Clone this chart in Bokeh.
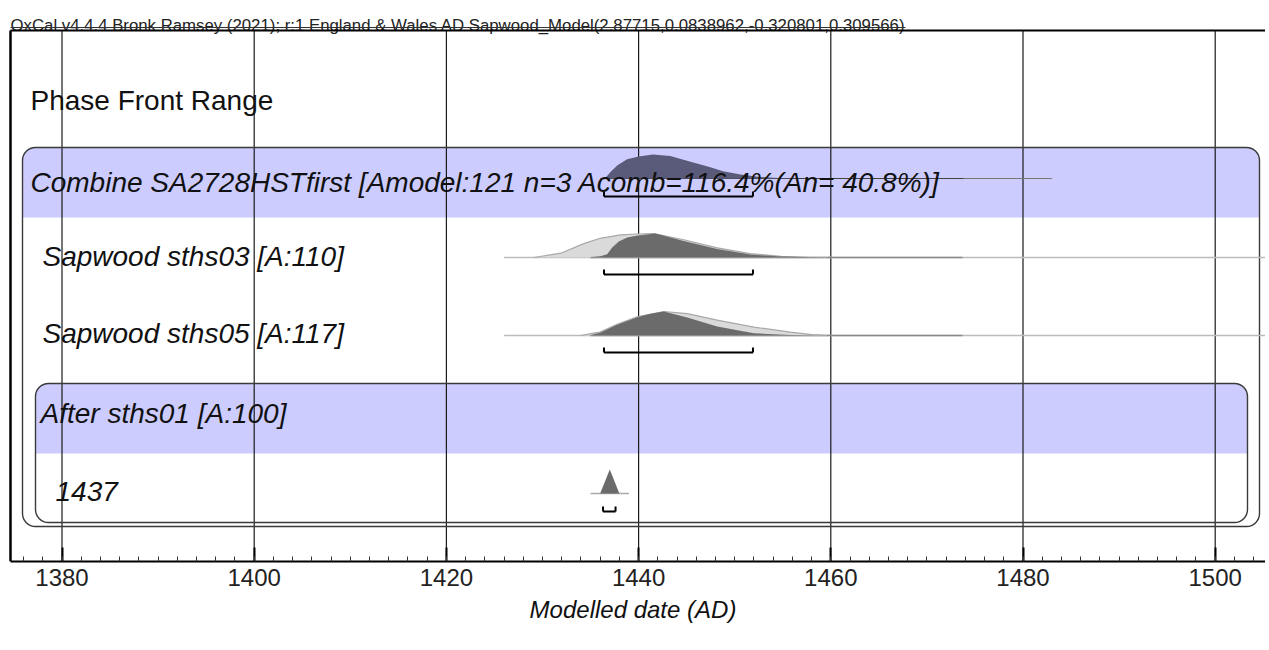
from bokeh.plotting import figure
from bokeh.models import Range1d, SingleIntervalTicker
from bokeh.core.properties import value
from bokeh.embed import file_html
from bokeh.resources import INLINE

# ---------------- data ----------------
header = "OxCal v4.4.4 Bronk Ramsey (2021); r:1 England & Wales AD Sapwood_Model(2.87715,0.0838962,-0.320801,0.309566)"
phase_label = "Phase Front Range"
row_labels = [
    "Combine SA2728HSTfirst [Amodel:121 n=3 Acomb=116.4%(An= 40.8%)]",
    "Sapwood sths03 [A:110]",
    "Sapwood sths05 [A:117]",
    "After sths01 [A:100]",
    "1437",
]
tick_years = [1380, 1400, 1420, 1440, 1460, 1480, 1500]
axis_title = "Modelled date (AD)"

# Combine posterior (relative probability)
comb_x = [1436.5, 1437.1, 1437.8, 1438.8, 1440.0, 1441.5, 1443.3, 1445.4, 1447.2, 1448.8, 1450.6, 1452.4, 1454.5, 1456.5]
comb_p = [0.0, 0.28, 0.55, 0.80, 0.92, 1.00, 0.94, 0.70, 0.50, 0.30, 0.17, 0.07, 0.02, 0.0]
comb_span = [1436.0, 1483.0]
comb_post_span = [1436.5, 1473.8]
comb_range = [1436.4, 1451.9]

# Sapwood sths03
s03_prior_x = [1429.1, 1431.9, 1434.3, 1436.0, 1438.1, 1439.85, 1441.55, 1444.7, 1448.2, 1451.6, 1454.8, 1457.5, 1459.6]
s03_prior_p = [0.0, 0.18, 0.58, 0.80, 0.94, 0.98, 1.00, 0.74, 0.40, 0.16, 0.05, 0.01, 0.0]
s03_post_x = [1435.0, 1436.0, 1436.73, 1437.25, 1437.94, 1438.81, 1439.92, 1441.76, 1444.70, 1448.18, 1451.64, 1454.76, 1457.9, 1460.0]
s03_post_p = [0.02, 0.05, 0.14, 0.42, 0.67, 0.83, 0.92, 1.00, 0.69, 0.35, 0.125, 0.04, 0.01, 0.0]
s03_range = [1436.4, 1451.9]

# Sapwood sths05
s05_prior_x = [1434.0, 1435.3, 1436.0, 1437.77, 1439.85, 1442.62, 1445.06, 1448.18, 1451.99, 1455.8, 1458.0, 1459.6]
s05_prior_p = [0.0, 0.10, 0.14, 0.47, 0.78, 1.00, 0.91, 0.64, 0.35, 0.14, 0.04, 0.0]
s05_post_x = [1435.0, 1436.0, 1437.77, 1439.85, 1441.24, 1442.62, 1445.06, 1448.18, 1451.99, 1455.8, 1458.5]
s05_post_p = [0.02, 0.11, 0.45, 0.76, 0.91, 1.00, 0.75, 0.38, 0.09, 0.02, 0.0]
s05_range = [1436.4, 1451.9]

sap_prior_span = [1426.0, 1507.0]
sap_post_span = [1435.0, 1473.7]

# After 1437
a_x = [1436.0, 1437.0, 1438.0]
a_p = [0.0, 1.0, 0.0]
a_span = [1435.0, 1439.0]
a_range = [1436.3, 1437.6]

# ---------------- layout helpers ----------------
PX1380 = 61.5      # page x of year 1380
PPY = 9.61         # pixels per year
W, H = 1265, 646
AXIS_Y = 561


def yr(px):
    return 1380 + (px - PX1380) / PPY


x_start, x_end = yr(0), yr(W)
PEAK = 24

p = figure(width=W, height=H, output_backend="svg", toolbar_location=None,
           x_range=Range1d(x_start, x_end), y_range=Range1d(AXIS_Y, 0),
           y_axis_location=None, min_border_left=0, min_border_right=0,
           min_border_top=0, min_border_bottom=H - AXIS_Y)
p.outline_line_color = None
p.xgrid.grid_line_color = None
p.ygrid.grid_line_color = None
p.background_fill_color = "white"

BAND = "#ccccff"
BOX = "#3a3a3a"

# bands
p.quad(left=[yr(22)], right=[yr(1259)], top=[147], bottom=[217], fill_color=BAND,
       line_color=None, border_radius=(13, 13, 0, 0))
p.quad(left=[yr(35)], right=[yr(1247)], top=[383], bottom=[453], fill_color=BAND,
       line_color=None, border_radius=(13, 13, 0, 0))

# grid lines
p.segment(x0=tick_years, x1=tick_years, y0=[30] * len(tick_years), y1=[AXIS_Y] * len(tick_years),
          line_color="#1a1a1a", line_width=1.2)

# boxes
p.quad(left=[yr(22)], right=[yr(1259)], top=[147], bottom=[526], fill_color=None,
       line_color=BOX, line_width=1.4, border_radius=13)
p.quad(left=[yr(35)], right=[yr(1247)], top=[383], bottom=[522], fill_color=None,
       line_color=BOX, line_width=1.4, border_radius=13)

LIGHT_F, LIGHT_L = "#dadada", "#a8a8a8"
DARK = "#6b6b6b"


def bracket(rng, y):
    p.segment(x0=[rng[0]], x1=[rng[1]], y0=[y], y1=[y], line_color="black", line_width=2)
    p.segment(x0=rng, x1=rng, y0=[y, y], y1=[y - 5, y - 5], line_color="black", line_width=2)


def dist(xs, ps, base, fill, line=None):
    ys = [base - v * PEAK for v in ps]
    p.varea(x=xs, y1=[base] * len(xs), y2=ys, fill_color=fill)
    if line:
        p.line(xs, ys, line_color=line, line_width=1.2)


# Combine row
b = 178
p.line(comb_span, [b, b], line_color="#777777", line_width=1)
p.line(comb_post_span, [b, b], line_color="#444444", line_width=1)
dist(comb_x, comb_p, b, "#5a5a7a")
bracket(comb_range, 196)

# sths03
b = 257
p.line(sap_prior_span, [b, b], line_color="#bbbbbb", line_width=1.6)
p.line(sap_post_span, [b, b], line_color="#8a8a8a", line_width=1.4)
dist(s03_prior_x, s03_prior_p, b, LIGHT_F, LIGHT_L)
dist(s03_post_x, s03_post_p, b, DARK)
bracket(s03_range, 274)

# sths05
b = 335
p.line(sap_prior_span, [b, b], line_color="#bbbbbb", line_width=1.6)
p.line(sap_post_span, [b, b], line_color="#8a8a8a", line_width=1.4)
dist(s05_prior_x, s05_prior_p, b, LIGHT_F, LIGHT_L)
dist(s05_post_x, s05_post_p, b, DARK)
bracket(s05_range, 352)

# After 1437
b = 493
p.line(a_span, [b, b], line_color="#aaaaaa", line_width=1.6)
dist(a_x, a_p, b, DARK)
bracket(a_range, 511)

# texts
FONT = value("Liberation Sans")
p.text(x=[yr(30)], y=[100], text=[phase_label], text_font=FONT, text_font_size="28px",
       text_baseline="middle", text_color="#111111")
p.text(x=[yr(30), yr(42), yr(42), yr(40), yr(55)], y=[182, 256, 333, 413, 491], text=row_labels,
       text_font=FONT, text_font_size="28px", text_font_style="italic",
       text_baseline="middle", text_color="#111111")

# header
p.text(x=[yr(10)], y=[25], text=[header], text_font=FONT, text_font_size="16.8px",
       text_baseline="alphabetic", text_color="#222222")
p.segment(x0=[yr(10)], x1=[yr(905)], y0=[27], y1=[27], line_color="#333333", line_width=1)

# frame lines
p.segment(x0=[yr(10)], x1=[x_end], y0=[30], y1=[30], line_color="black", line_width=2)
p.segment(x0=[yr(10)], x1=[yr(10)], y0=[30], y1=[AXIS_Y], line_color="black", line_width=2.5)

# axis
ax = p.xaxis[0]
ax.ticker = SingleIntervalTicker(interval=20, num_minor_ticks=10)
ax.bounds = (yr(10), x_end)
ax.axis_line_width = 2
ax.axis_line_color = "black"
ax.major_tick_in = 14
ax.major_tick_out = 0
ax.major_tick_line_width = 2
ax.minor_tick_in = 5
ax.minor_tick_out = 0
ax.minor_tick_line_color = "#333333"
ax.major_label_text_font = "Liberation Sans"
ax.major_label_text_font_size = "24px"
ax.major_label_text_color = "#222222"
ax.major_label_standoff = 7
ax.axis_label = axis_title
ax.axis_label_text_font = "Liberation Sans"
ax.axis_label_text_font_size = "24px"
ax.axis_label_text_font_style = "italic"
ax.axis_label_text_color = "#111111"
ax.axis_label_standoff = 7

open("out.html", "w").write(file_html(p, INLINE))
